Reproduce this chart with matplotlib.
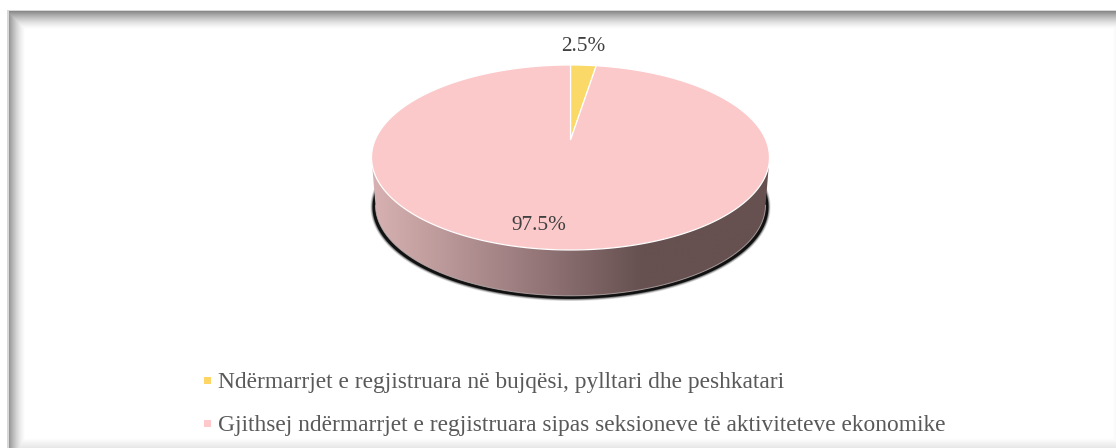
#!/usr/bin/env python3
"""Perspective 3D-style pie chart: registered enterprises by sector"""

import numpy as np
import matplotlib
matplotlib.use("Agg")
import matplotlib.pyplot as plt
from matplotlib.colors import LinearSegmentedColormap
from matplotlib.patches import Polygon, Rectangle

# Data
categories = [
    "Ndërmarrjet e regjistruara në bujqësi, pylltari dhe peshkatari",
    "Gjithsej ndërmarrjet e regjistruara sipas seksioneve të aktiviteteve ekonomike",
]
values = [2.5, 97.5]
value_labels = ["2.5%", "97.5%"]

W, H = 1116, 448
FONT = ["Liberation Serif", "DejaVu Serif"]
PIE_COLORS = ["#FBD968", "#FBC9CA"]
KEY_COLORS = ["#FFD666", "#FFC9CC"]

# pie geometry in pixels, apex is the true disc centre under perspective
APEX_X, APEX_Y = 570.5, 140
A, B, K = 195.4, 89.2, 0.189
DEPTH = 48


def disc(theta, scale=1.0, dy=0.0):
    """Project angle (radians, clockwise from the top) onto the tilted disc"""
    w = 1 + K * np.cos(theta)
    x = APEX_X + scale * A * np.sin(theta) / w
    y = APEX_Y + dy - scale * B * np.cos(theta) / w
    return np.column_stack([x, y])


fig = plt.figure(figsize=(W / 100, H / 100), dpi=100)
ax = fig.add_axes([0, 0, 1, 1])
ax.set_xlim(0, W)
ax.set_ylim(H, 0)
ax.axis("off")

# inner shadow of the frame
xx, yy = np.meshgrid(np.arange(W) + 0.5, np.arange(H) + 0.5)
shade = np.maximum.reduce([
    0.42 * np.clip(1 - (xx - 9) / 17, 0, 1) ** 1.5,
    0.48 * np.clip(1 - (yy - 11) / 19, 0, 1) ** 1.5,
    0.10 * np.clip(1 - (H - yy) / 10, 0, 1),
    0.03 * np.clip(1 - (W - xx) / 4, 0, 1),
])
shade[xx < 7] = 0
shade[yy < 10] = 0
ax.imshow(1 - shade, cmap="gray", vmin=0, vmax=1, extent=(0, W, H, 0),
          aspect="auto", zorder=0, interpolation="bilinear")
ax.add_patch(Rectangle((7, 10), 2, H, color="#D8D8D8", lw=0, zorder=1))
ax.add_patch(Rectangle((7, 10), W, 1, color="#D8D8D8", lw=0, zorder=1))

# side wall, blurred black shadow underneath; wall stops at the disc's widest points
front = np.radians(np.linspace(101, 259, 300))
top_rim = disc(front)
low_rim = disc(front, scale=0.98, dy=DEPTH)
shadow = disc(np.radians(np.linspace(90, 270, 300)), scale=0.995, dy=DEPTH + 1.5)
for lw, alpha in [(3.0, 0.12), (2.0, 0.2), (1.0, 0.3)]:
    ax.add_patch(Polygon(shadow, closed=True, fc="none", ec="black", lw=lw, alpha=alpha, zorder=2))
ax.add_patch(Polygon(shadow, closed=True, fc="#111111", ec="none", zorder=2))
wall = Polygon(np.vstack([top_rim, low_rim[::-1]]), closed=True,
               fc="none", ec="none", zorder=3)
ax.add_patch(wall)
wall_cmap = LinearSegmentedColormap.from_list(
    "wall", [(0, "#D8B2B2"), (0.35, "#A08082"), (0.68, "#665050"), (1, "#665050")])
grad = ax.imshow(np.linspace(0, 1, 256)[None, :], cmap=wall_cmap, extent=(372, 770, 300, 150),
                 aspect="auto", zorder=3)
grad.set_clip_path(wall)
ax.plot(low_rim[:, 0], low_rim[:, 1], color="#BBB0B0", lw=0.7, alpha=0.8, zorder=4)
ax.set_xlim(0, W)
ax.set_ylim(H, 0)

# top face, slices run clockwise from 12 o'clock
start = 0.0
for val, col in zip(values, PIE_COLORS):
    stop = start + val / sum(values) * 2 * np.pi
    rim = disc(np.linspace(start, stop, 400))
    ax.add_patch(Polygon(np.vstack([[APEX_X, APEX_Y], rim]), closed=True,
                         fc=col, ec="white", lw=0.9, zorder=5))
    start = stop

# data labels
ax.text(583, 46.5, value_labels[0], fontsize=15.3, family=FONT, color="#404040",
        ha="center", va="center", zorder=6)
ax.text(539, 225.5, value_labels[1], fontsize=15.3, family=FONT, color="#404040",
        ha="center", va="center", zorder=6)

# legend
for cat, col, y in zip(categories, KEY_COLORS, [381, 424]):
    ax.add_patch(Rectangle((203.5, y - 3.5), 7, 7, color=col, lw=0, zorder=6))
    ax.text(218, y + 1.5, cat, fontsize=16.8, family=FONT, color="#595959",
            ha="left", va="center", zorder=6)

fig.savefig("out.png", dpi=100)
